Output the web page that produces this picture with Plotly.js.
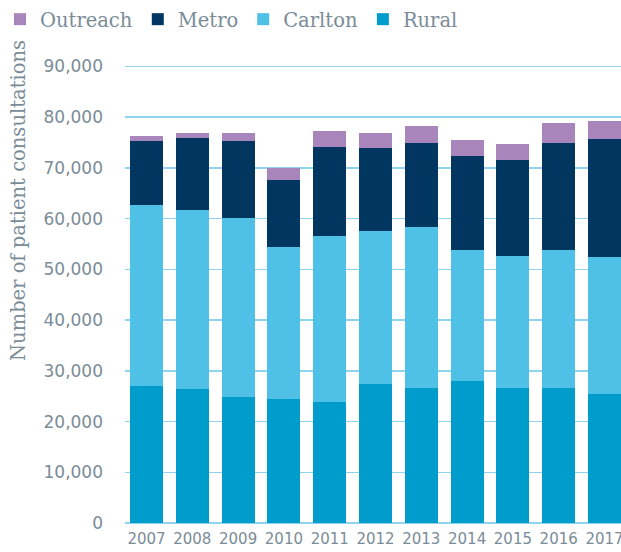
<!DOCTYPE html>
<html>
<head>
<meta charset="utf-8">
<script src="https://cdn.plot.ly/plotly-3.0.1.min.js"></script>
<style>html,body{margin:0;padding:0;background:#fff;}#chart{width:621px;height:552px;}</style>
</head>
<body>
<div id="chart"></div>
<script>
const years = ['2007','2008','2009','2010','2011','2012','2013','2014','2015','2016','2017'];
const rural    = [27000,26400,24800,24400,23800,27400,26600,28000,26600,26600,25400];
const carlton  = [35700,35400,35400,30000,32700,30200,31700,25900,26100,27300,27100];
const metro    = [12600,14100,15100,13200,17600,16300,16600,18400,18800,21000,23200];
const outreach = [1000,1000,1600,2400,3200,3000,3300,3200,3200,3900,3500];

const seriesNames = ['Rural','Carlton','Metro','Outreach'];
const seriesValues = [rural, carlton, metro, outreach];
const seriesColors = ['#009ccb','#4fc0e6','#003660','#a886bb'];
const yTitle = 'Number of patient consultations';

const textColor = '#7a8c97';
const serif = '"DejaVu Serif", "Liberation Serif", serif';
const sans = '"DejaVu Sans", "Open Sans", sans-serif';

const traces = seriesNames.map((n, i) => ({
  type: 'bar',
  name: n,
  x: years,
  y: seriesValues[i],
  marker: {color: seriesColors[i], line: {width: 0}},
  hoverinfo: 'x+y+name'
}));

const layout = {
  width: 621, height: 552,
  margin: {l: 125, r: 0, t: 65, b: 29, pad: 0, autoexpand: false},
  barmode: 'stack',
  bargap: 0.28,
  paper_bgcolor: '#fff',
  plot_bgcolor: '#fff',
  showlegend: true,
  legend: {
    orientation: 'h', traceorder: 'reversed',
    xref: 'container', yref: 'container',
    x: 0, y: 1, xanchor: 'left', yanchor: 'top',
    font: {family: serif, size: 19.5, color: textColor},
    itemwidth: 30, bgcolor: 'rgba(0,0,0,0)'
  },
  xaxis: {
    type: 'category',
    range: [-0.47, 10.36],
    showgrid: false, zeroline: false, showline: false,
    ticks: '',
    tickfont: {family: sans, size: 15, color: textColor},
    ticklabelstandoff: 5
  },
  yaxis: {
    range: [0, 90300],
    dtick: 10000,
    tickformat: ',d',
    showgrid: true, gridcolor: '#8fd3ee', gridwidth: 1.5,
    zeroline: true, zerolinecolor: '#8fd3ee', zerolinewidth: 2,
    showline: false, ticks: '',
    tickfont: {family: sans, size: 17, color: textColor},
    ticklabelstandoff: 21
  },
  annotations: [{
    text: yTitle, textangle: -90,
    xref: 'paper', yref: 'paper',
    x: -0.216, y: 0.705, xanchor: 'center', yanchor: 'middle',
    showarrow: false,
    font: {family: serif, size: 19.5, color: textColor}
  }]
};

Plotly.newPlot('chart', traces, layout, {displayModeBar: false, staticPlot: true});
</script>
</body>
</html>
